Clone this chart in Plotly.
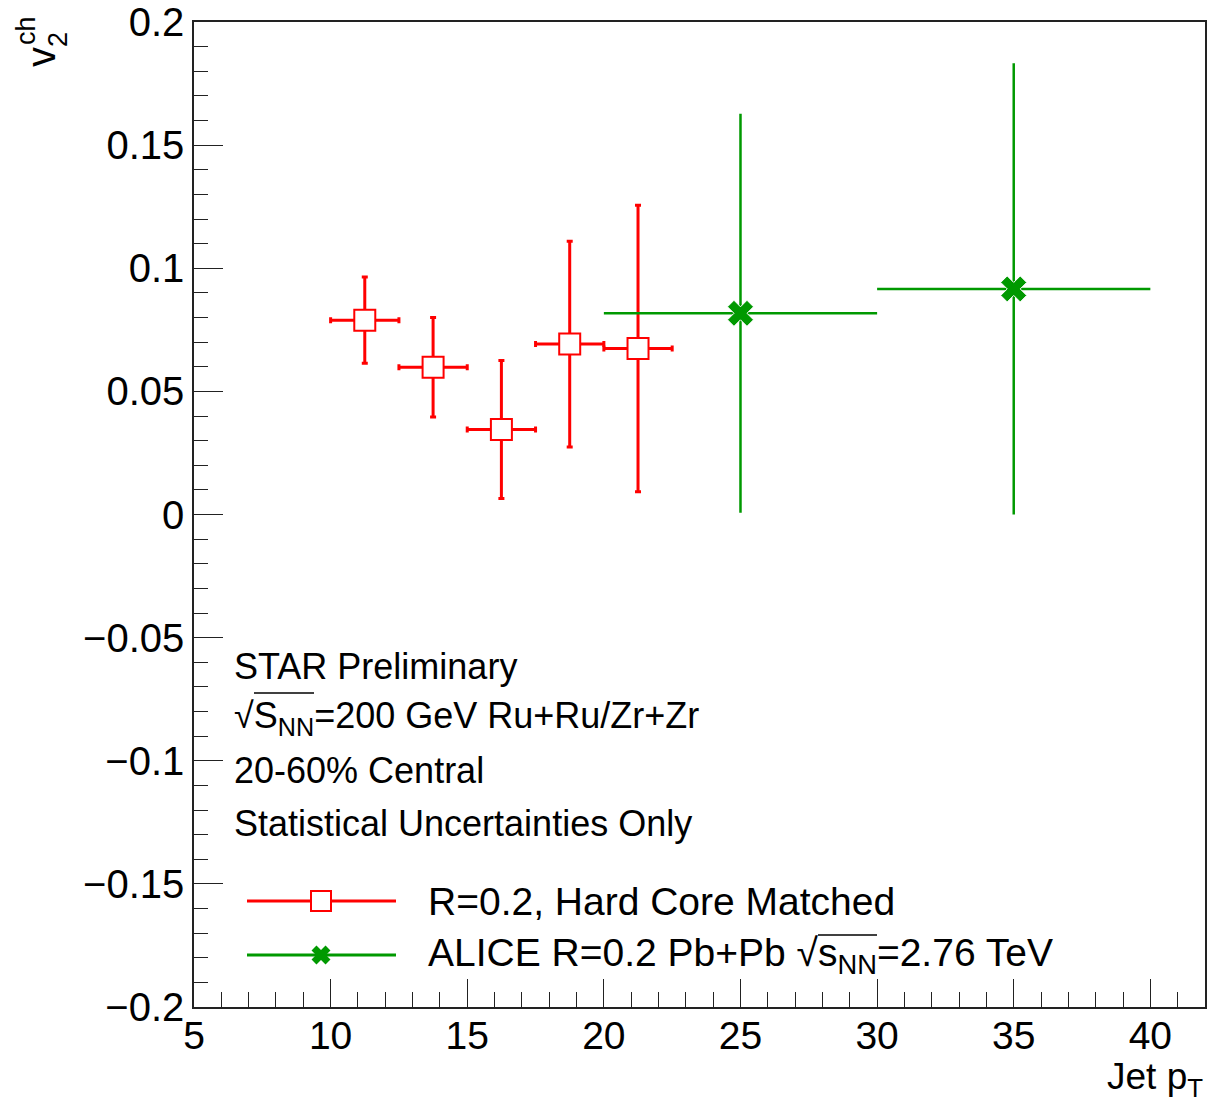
import plotly.graph_objects as go

# ---- data ----
star_pt = [11.25, 13.75, 16.25, 18.75, 21.25]
star_pt_err = [1.25, 1.25, 1.25, 1.25, 1.25]
star_v2 = [0.0789, 0.0598, 0.0345, 0.0692, 0.0674]
star_v2_err = [0.0175, 0.0202, 0.0280, 0.0418, 0.0582]

alice_pt = [25.0, 35.0]
alice_pt_err = [5.0, 5.0]
alice_v2 = [0.0817, 0.0916]
alice_v2_err = [0.0810, 0.0916]

x_range = [5, 42]
y_range = [-0.2, 0.2]

RED = "#ff0000"
GREEN = "#009900"
FONT = "Liberation Sans, Arial, sans-serif"

fig = go.Figure()
fig.add_trace(go.Scatter(
    x=star_pt, y=star_v2, mode="markers",
    marker=dict(symbol="square", size=21, color="white", line=dict(color=RED, width=2)),
    error_x=dict(type="data", array=star_pt_err, color=RED, thickness=3, width=3),
    error_y=dict(type="data", array=star_v2_err, color=RED, thickness=3, width=3),
    showlegend=False))
fig.add_trace(go.Scatter(
    x=alice_pt, y=alice_v2, mode="markers",
    marker=dict(symbol="x", size=23, color=GREEN, line=dict(color="white", width=1)),
    error_x=dict(type="data", array=alice_pt_err, color=GREEN, thickness=2.5, width=0),
    error_y=dict(type="data", array=alice_v2_err, color=GREEN, thickness=2.5, width=0),
    showlegend=False))

L, R, T, B = 194, 9, 22, 98
W, H = 1214, 1105
PW, PH = W - L - R, H - T - B


def px(xp):
    return (xp - L) / PW


def py(yp):
    return (H - B - yp) / PH


annotations = []
# y-axis title v_2^ch
annotations.append(dict(text="v", x=px(41), y=py(57), xref="paper", yref="paper",
                        showarrow=False, textangle=-90, font=dict(size=40, family=FONT, color="black"),
                        xanchor="center", yanchor="middle"))
annotations.append(dict(text="ch", x=px(26), y=py(31), xref="paper", yref="paper",
                        showarrow=False, textangle=-90, font=dict(size=27, family=FONT, color="black"),
                        xanchor="center", yanchor="middle"))
annotations.append(dict(text="2", x=px(58), y=py(40), xref="paper", yref="paper",
                        showarrow=False, textangle=-90, font=dict(size=27, family=FONT, color="black"),
                        xanchor="center", yanchor="middle"))
# x-axis title
annotations.append(dict(text="Jet p<sub>T</sub>", x=1.0, y=py(1104), xref="paper", yref="paper",
                        showarrow=False, font=dict(size=37, family=FONT, color="black"),
                        xanchor="right", yanchor="bottom"))

info_lines = ["STAR Preliminary",
              "√S<sub>NN</sub>=200 GeV Ru+Ru/Zr+Zr",
              "20-60% Central",
              "Statistical Uncertainties Only"]
info_y = [666, 718, 770, 823]
for t, yy in zip(info_lines, info_y):
    annotations.append(dict(text=t, x=px(232), y=py(yy), xref="paper", yref="paper",
                            showarrow=False, font=dict(size=36, family=FONT, color="black"),
                            xanchor="left", yanchor="middle"))

legend_labels = ["R=0.2, Hard Core Matched", "ALICE R=0.2 Pb+Pb √s<sub>NN</sub>=2.76 TeV"]
legend_y = [901, 955]
for t, yy in zip(legend_labels, legend_y):
    annotations.append(dict(text=t, x=px(426), y=py(yy), xref="paper", yref="paper",
                            showarrow=False, font=dict(size=39, family=FONT, color="black"),
                            xanchor="left", yanchor="middle"))

shapes = []
# legend sample lines
shapes.append(dict(type="line", xref="paper", yref="paper", x0=px(247), x1=px(396),
                   y0=py(901), y1=py(901), line=dict(color=RED, width=3)))
shapes.append(dict(type="line", xref="paper", yref="paper", x0=px(247), x1=px(396),
                   y0=py(955), y1=py(955), line=dict(color=GREEN, width=3)))
# legend marker: open square
shapes.append(dict(type="rect", xref="paper", yref="paper", xsizemode="pixel", ysizemode="pixel",
                   xanchor=px(321), yanchor=py(901), x0=-10, x1=10, y0=-10, y1=10,
                   fillcolor="white", line=dict(color=RED, width=2)))
# legend marker: fat X
shapes.append(dict(type="path", xref="paper", yref="paper", xsizemode="pixel", ysizemode="pixel",
                   xanchor=px(321), yanchor=py(955),
                   path="M-7,-7 L7,7 M-7,7 L7,-7", line=dict(color=GREEN, width=7)))
# overlines for square roots
shapes.append(dict(type="line", xref="paper", yref="paper", x0=px(254), x1=px(314),
                   y0=py(693), y1=py(693), line=dict(color="black", width=1.5)))
shapes.append(dict(type="line", xref="paper", yref="paper", x0=px(818), x1=px(877),
                   y0=py(935), y1=py(935), line=dict(color="black", width=1.5)))

fig.update_layout(
    width=W, height=H,
    margin=dict(l=L, r=R, t=T, b=B, pad=0),
    paper_bgcolor="white", plot_bgcolor="white",
    font=dict(family=FONT, color="black"),
    annotations=annotations, shapes=shapes,
    showlegend=False,
)
fig.update_xaxes(range=x_range, dtick=5, tick0=5, ticks="inside", ticklen=28, tickwidth=1.2,
                 tickcolor="#222", showline=True, linecolor="#222", linewidth=1.5, mirror=True,
                 showgrid=False, zeroline=False, automargin=False, ticklabelstandoff=-7,
                 tickfont=dict(size=39, family=FONT, color="black"),
                 minor=dict(ticks="inside", dtick=1, ticklen=15, tickwidth=1.2, tickcolor="#222", showgrid=False))
fig.update_yaxes(range=y_range, dtick=0.05, tick0=0, ticks="inside", ticklen=29, tickwidth=1.2,
                 tickcolor="#222", showline=True, linecolor="#222", linewidth=1.5, mirror=True,
                 showgrid=False, zeroline=False, automargin=False,
                 tickfont=dict(size=40, family=FONT, color="black"),
                 minor=dict(ticks="inside", dtick=0.01, ticklen=14, tickwidth=1.2, tickcolor="#222", showgrid=False))

fig.write_html("out.html")
